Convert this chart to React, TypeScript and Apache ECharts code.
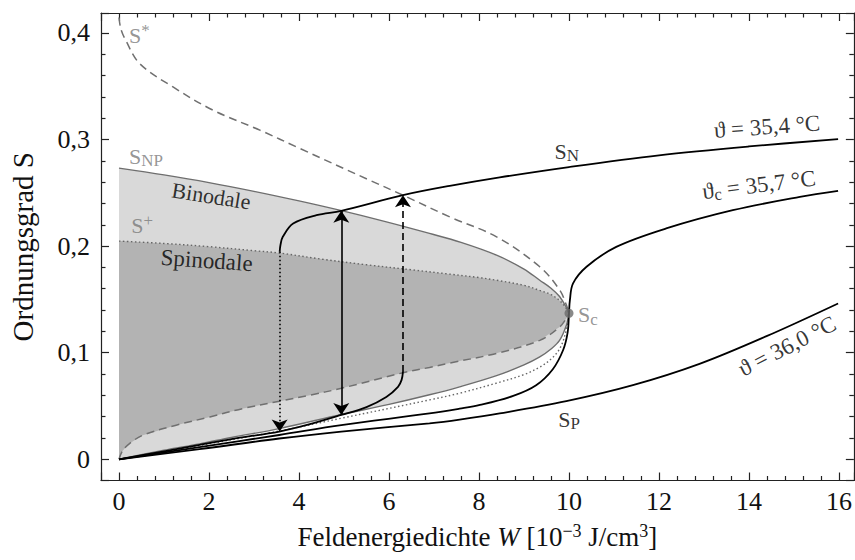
import React, { useEffect, useRef } from 'react';
import * as echarts from 'echarts';

// ---------- data (W in 10^-3 J/cm^3, S) ----------
const binodalUpper: [number, number][] = [
  [0, 0.2732], [1, 0.2668], [2, 0.2596], [3, 0.2514], [4, 0.2424], [4.9, 0.2337],
  [5.9, 0.2232], [6.9, 0.2119], [7.6, 0.2035], [8.39, 0.1915], [9, 0.1785],
  [9.35, 0.168], [9.6, 0.1605], [9.79, 0.1527], [9.94, 0.1425], [10, 0.137],
];
const binodalLower: [number, number][] = [
  [0, 0], [1, 0.0085], [1.79, 0.0145], [2.5, 0.0205], [3.56, 0.0288], [4.94, 0.042],
  [6, 0.0515], [6.9, 0.0605], [7.57, 0.068], [8.39, 0.0785], [9, 0.0885],
  [9.35, 0.096], [9.6, 0.1035], [9.79, 0.1115], [9.94, 0.1255], [10, 0.137],
];
const spinodalUpper: [number, number][] = [
  [0, 0.2047], [1, 0.2025], [2, 0.1995], [3, 0.1957], [3.57, 0.1935], [4.5, 0.1878],
  [5.5, 0.1825], [6.5, 0.1778], [7.35, 0.1737], [8, 0.1705], [8.39, 0.168],
  [9, 0.1632], [9.35, 0.1584], [9.6, 0.1545], [9.79, 0.149], [9.94, 0.1415], [10, 0.137],
];
const spinodalLower: [number, number][] = [
  [0, 0], [1.79, 0.013], [3.56, 0.0265], [4.94, 0.0385], [6.9, 0.0557], [7.57, 0.062],
  [8.39, 0.0715], [9, 0.0795], [9.35, 0.0865], [9.6, 0.094], [9.79, 0.1035],
  [9.92, 0.118], [10, 0.137],
];
const unstableUpper: [number, number][] = [
  [0, 0.4145], [0.04, 0.404], [0.13, 0.3947], [0.46, 0.3712], [1.2, 0.3493],
  [2.09, 0.3275], [3.13, 0.3088], [4.02, 0.2916], [5.57, 0.2618], [6.31, 0.2478],
  [7.35, 0.2274], [8.39, 0.2087], [9.35, 0.1806], [9.79, 0.159], [9.94, 0.145], [10, 0.137],
];
const unstableLower: [number, number][] = [
  [0, 0], [0.08, 0.008], [0.24, 0.015], [0.53, 0.0226], [1.27, 0.032], [2.02, 0.0397],
  [2.76, 0.0477], [3.57, 0.0545], [4.24, 0.0601], [4.94, 0.0666], [6.31, 0.0812],
  [6.9, 0.0862], [7.35, 0.0903], [8.39, 0.0994], [9.35, 0.1116], [9.79, 0.124],
  [9.94, 0.132], [10, 0.137],
];
const theta354Lower: [number, number][] = [
  [0, 0], [1, 0.0075], [1.79, 0.0135], [2.5, 0.019], [3.56, 0.026], [4.2, 0.0325],
  [4.94, 0.0416], [5.5, 0.049], [5.94, 0.0585], [6.2, 0.068], [6.28, 0.0745], [6.31, 0.082],
];
const theta354Upper: [number, number][] = [
  [3.57, 0.1946], [3.59, 0.2015], [3.64, 0.2087], [3.87, 0.2212], [4.39, 0.229],
  [4.94, 0.2331], [6.31, 0.2478], [7.35, 0.2565], [8.46, 0.2645], [10, 0.2742],
  [12, 0.2852], [14, 0.2935], [15.98, 0.3003],
];
const theta357: [number, number][] = [
  [0, 0], [1.79, 0.0115], [3.56, 0.0228], [4.94, 0.032], [6.9, 0.043], [7.57, 0.0475],
  [8.02, 0.051], [8.76, 0.0595], [9.27, 0.0695], [9.64, 0.0845], [9.87, 0.1025],
  [9.97, 0.119], [10, 0.137], [10.02, 0.1493], [10.09, 0.165], [10.39, 0.1806],
  [11.05, 0.1993], [12.16, 0.2166], [13.64, 0.2337], [15.13, 0.2462], [15.98, 0.2518],
];
const theta360: [number, number][] = [
  [0, 0], [1.79, 0.0095], [3.56, 0.0195], [4.94, 0.026], [6.9, 0.0337], [7.57, 0.0372],
  [8.46, 0.043], [9.94, 0.0545], [11.42, 0.0695], [12.9, 0.0895], [14.39, 0.1155], [15.98, 0.1462],
];
// vertical transitions: [W, S from, S to]
const jumpDown: [number, number, number] = [3.57, 0.1946, 0.026];
const jumpBinodal: [number, number, number] = [4.94, 0.0416, 0.2331];
const jumpUp: [number, number, number] = [6.31, 0.082, 0.2478];
const criticalPoint: [number, number] = [10, 0.137];

const FONT = '"Liberation Serif", "DejaVu Serif", serif';
const GRAY_TXT = '#7a7a7a';

// annotation anchors (data coordinates) – layout, kept apart from the data above
const annotations = [
  { text: '{n|S}{sup|*}', at: [0.22, 0.398], color: GRAY_TXT, align: 'left', rotate: 0, size: 22 },
  { text: '{n|S}{sub|NP}', at: [0.22, 0.2845], color: GRAY_TXT, align: 'left', rotate: 0, size: 22 },
  { text: '{n|Binodale}', at: [2.05, 0.247], color: '#000', align: 'center', rotate: -9, size: 22 },
  { text: '{n|S}{sup|+}', at: [0.27, 0.2195], color: GRAY_TXT, align: 'left', rotate: 0, size: 22 },
  { text: '{n|Spinodale}', at: [1.95, 0.187], color: '#000', align: 'center', rotate: -4, size: 23 },
  { text: '{n|S}{sub|N}', at: [9.95, 0.289], color: '#000', align: 'center', rotate: 0, size: 22 },
  { text: '{n|ϑ = 35,4 °C}', at: [14.4, 0.3125], color: '#000', align: 'center', rotate: 4, size: 23 },
  { text: '{n|ϑ}{sub|c}{n| = 35,7 °C}', at: [14.22, 0.258], color: '#000', align: 'center', rotate: 7, size: 23 },
  { text: '{n|ϑ = 36,0 °C}', at: [14.85, 0.106], color: '#000', align: 'center', rotate: 27, size: 23 },
  { text: '{n|S}{sub|P}', at: [10.0, 0.0375], color: '#000', align: 'center', rotate: 0, size: 22 },
  { text: '{n|S}{sub|c}', at: [10.2, 0.1355], color: GRAY_TXT, align: 'left', rotate: 0, size: 22 },
];

function makeRich(color: string, size: number) {
  const small = Math.round(size * 0.75);
  return {
    n: { fontFamily: FONT, fontSize: size, color, lineHeight: size + 4 },
    sub: { fontFamily: FONT, fontSize: small, color, verticalAlign: 'bottom', lineHeight: small },
    sup: { fontFamily: FONT, fontSize: small, color, verticalAlign: 'top', lineHeight: small },
  };
}

const AX = '#222';

function xAxisCfg(position: 'bottom' | 'top', labels: boolean) {
  return {
    type: 'value',
    position,
    min: -0.4,
    max: 16.33,
    splitNumber: 8,
    axisLine: { show: true, onZero: false, lineStyle: { color: AX, width: 1.2 } },
    axisTick: { show: true, inside: true, length: 8, lineStyle: { color: AX, width: 1.2 } },
    minorTick: { show: true, splitNumber: 5, length: 4.5, lineStyle: { color: AX, width: 1.2 } },
    splitLine: { show: false },
    minorSplitLine: { show: false },
    axisLabel: {
      show: labels,
      margin: 8,
      fontFamily: FONT,
      fontSize: 26,
      color: '#111',
      showMinLabel: false,
      showMaxLabel: false,
    },
    ...(labels
      ? {
          name: '{t|Feldenergiedichte }{i|W}{t| [10}{sup|−3}{t| J/cm}{sup|3}{t|]}',
          nameLocation: 'middle',
          nameGap: 41,
          nameTextStyle: {
            rich: {
              t: { fontFamily: FONT, fontSize: 27, color: '#111', lineHeight: 31 },
              i: { fontFamily: FONT, fontSize: 27, color: '#111', fontStyle: 'italic', lineHeight: 31 },
              sup: { fontFamily: FONT, fontSize: 18, color: '#111', verticalAlign: 'top', lineHeight: 18 },
            },
          },
        }
      : {}),
  };
}

function yAxisCfg(position: 'left' | 'right', labels: boolean) {
  return {
    type: 'value',
    position,
    min: -0.0199,
    max: 0.4187,
    splitNumber: 5,
    axisLine: { show: true, onZero: false, lineStyle: { color: AX, width: 1.2 } },
    axisTick: { show: true, inside: true, length: 8, lineStyle: { color: AX, width: 1.2 } },
    minorTick: { show: true, splitNumber: 5, length: 4.5, lineStyle: { color: AX, width: 1.2 } },
    splitLine: { show: false },
    minorSplitLine: { show: false },
    axisLabel: {
      show: labels,
      margin: 11,
      fontFamily: FONT,
      fontSize: 26,
      color: '#111',
      showMinLabel: false,
      showMaxLabel: false,
      formatter: (v: number) => (Math.abs(v) < 1e-9 ? '0' : v.toFixed(1).replace('.', ',')),
    },
    ...(labels
      ? {
          name: 'Ordnungsgrad S',
          nameLocation: 'middle',
          nameGap: 64,
          nameTextStyle: { fontFamily: FONT, fontSize: 29, color: '#111' },
        }
      : {}),
  };
}

function areaSeries(upper: [number, number][], lower: [number, number][], fill: string, z: number) {
  return {
    type: 'custom',
    silent: true,
    z,
    data: [[0, 0]],
    renderItem: (_p: any, api: any) => {
      const pts = [...upper, ...lower.slice().reverse()].map((p) => api.coord(p));
      return { type: 'polygon', shape: { points: pts }, style: { fill, stroke: 'none' } };
    },
  };
}

function lineSeries(data: [number, number][], color: string, width: number, type: any, z: number, smooth = 0.35) {
  return {
    type: 'line',
    data,
    showSymbol: false,
    symbol: 'none',
    smooth,
    silent: true,
    z,
    clip: true,
    lineStyle: { color, width, type },
  };
}

export default function App() {
  const ref = useRef<HTMLDivElement>(null);
  useEffect(() => {
    if (!ref.current) return;
    const chart = echarts.init(ref.current, undefined, { renderer: 'svg' });
    chart.setOption({
      animation: false,
      backgroundColor: '#fff',
      grid: { left: 101, right: 1, top: 13, bottom: 79.5, containLabel: false },
      xAxis: [xAxisCfg('bottom', true), xAxisCfg('top', false)],
      yAxis: [yAxisCfg('left', true), yAxisCfg('right', false)],
      series: [
        areaSeries(binodalUpper, binodalLower, '#d9d9d9', 1),
        areaSeries(spinodalUpper, unstableLower, '#b3b3b3', 2),
        lineSeries(binodalUpper, '#6e6e6e', 1.4, 'solid', 3),
        lineSeries(binodalLower, '#6e6e6e', 1.4, 'solid', 3),
        lineSeries(spinodalUpper, '#666', 1.4, [1.5, 2.5], 3),
        lineSeries(spinodalLower, '#666', 1.4, [1.5, 2.5], 3),
        lineSeries(unstableUpper, '#707070', 1.5, [8, 5], 3),
        lineSeries(unstableLower, '#707070', 1.5, [8, 5], 3),
        lineSeries(theta354Lower, '#000', 1.8, 'solid', 4),
        lineSeries(theta354Upper, '#000', 1.8, 'solid', 4),
        lineSeries(theta357, '#000', 1.8, 'solid', 4),
        lineSeries(theta360, '#000', 1.8, 'solid', 4),
        {
          type: 'line',
          data: [],
          z: 5,
          markLine: {
            silent: true,
            symbolSize: 12,
            label: { show: false },
            lineStyle: { color: '#000', width: 1.5 },
            data: [
              [
                { coord: [jumpDown[0], jumpDown[1]], symbol: 'none', lineStyle: { type: [1.5, 2.5], color: '#000', width: 1.6 } },
                { coord: [jumpDown[0], jumpDown[2]], symbol: 'arrow' },
              ],
              [
                { coord: [jumpBinodal[0], jumpBinodal[1]], symbol: 'arrow', lineStyle: { type: 'solid', color: '#000', width: 1.6 } },
                { coord: [jumpBinodal[0], jumpBinodal[2]], symbol: 'arrow' },
              ],
              [
                { coord: [jumpUp[0], jumpUp[1]], symbol: 'none', lineStyle: { type: [7, 4], color: '#000', width: 1.6 } },
                { coord: [jumpUp[0], jumpUp[2]], symbol: 'arrow' },
              ],
            ],
          },
        },
        {
          type: 'scatter',
          data: [criticalPoint],
          symbolSize: 9,
          z: 6,
          silent: true,
          itemStyle: { color: '#6b6b6b' },
        },
        {
          type: 'scatter',
          z: 7,
          silent: true,
          symbolSize: 0,
          data: annotations.map((a) => ({
            value: a.at,
            label: {
              show: true,
              position: 'inside',
              align: a.align,
              verticalAlign: 'middle',
              rotate: a.rotate,
              formatter: a.text,
              rich: makeRich(a.color, a.size),
            },
          })),
        },
      ],
    });
    return () => chart.dispose();
  }, []);
  return (
    <div
      ref={ref}
      style={{ position: 'absolute', left: 0, top: 0, width: 855, height: 560, background: '#fff' }}
    />
  );
}
